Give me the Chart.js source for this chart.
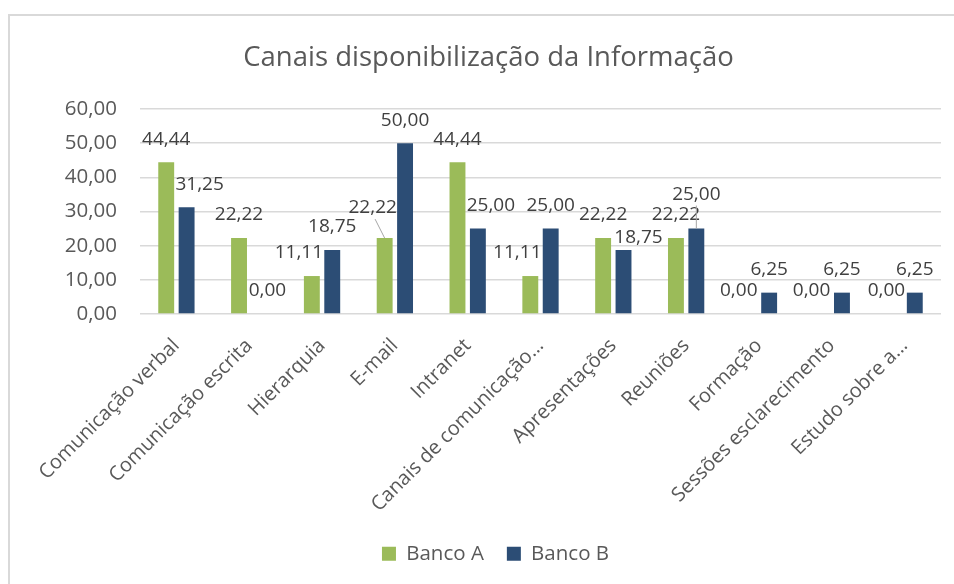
<!DOCTYPE html>
<html>
<head>
<meta charset="utf-8">
<script src="https://cdn.jsdelivr.net/npm/chart.js@4"></script>
<style>
  body { margin: 0; background: #fff; }
  #wrap { position: relative; width: 954px; height: 584px; overflow: hidden; }
  #frame { position: absolute; left: 8px; top: 14px; right: -4px; bottom: -4px;
           border-top: 2px solid #d9d9d9; border-left: 2px solid #d9d9d9; }
  canvas { position: absolute; left: 0; top: 0; }
</style>
</head>
<body>
<div id="wrap">
  <div id="frame"></div>
  <canvas id="chart" width="954" height="584"></canvas>
</div>
<script>
const categories = [
  'Comunicação verbal', 'Comunicação escrita', 'Hierarquia', 'E-mail', 'Intranet',
  'Canais de comunicação…', 'Apresentações', 'Reuniões', 'Formação',
  'Sessões esclarecimento', 'Estudo sobre a…'
];
const bancoA = [44.44, 22.22, 11.11, 22.22, 44.44, 11.11, 22.22, 22.22, 0, 0, 0];
const bancoB = [31.25, 0, 18.75, 50, 25, 25, 18.75, 25, 6.25, 6.25, 6.25];

// label shifts [dx, dy] so the value labels don't run into each other
const nudgeA = [[0,0],[0,0],[-13,0],[-12,7],[0,0],[-13,0],[0,0],[0,0],[-10,0],[-10,0],[-8,0]];
const nudgeB = [[13,0],[8,0],[0,0],[0,0],[13,0],[0,0],[15,-11],[0,11],[0,0],[0,0],[0,0]];
const leaderA = [3];
const leaderB = [7];

const fmt = v => v.toFixed(2).replace('.', ',');
const FONT = '"Open Sans", "DejaVu Sans", sans-serif';

const valueLabels = {
  id: 'valueLabels',
  afterDatasetsDraw(chart) {
    const ctx = chart.ctx;
    const nudges = [nudgeA, nudgeB];
    const leaders = [leaderA, leaderB];
    ctx.save();
    ctx.font = '19px ' + FONT;
    ctx.textAlign = 'center';
    ctx.textBaseline = 'middle';
    chart.data.datasets.forEach((ds, i) => {
      const meta = chart.getDatasetMeta(i);
      meta.data.forEach((bar, j) => {
        const [dx, dy] = nudges[i][j];
        const x = bar.x + dx;
        const y = bar.y - 23 - dy;
        if (leaders[i].includes(j)) {
          ctx.strokeStyle = '#a6a6a6';
          ctx.lineWidth = 1;
          ctx.beginPath();
          ctx.moveTo(x + (bar.x - x) * 0.2, y + 11);
          ctx.lineTo(bar.x, bar.y);
          ctx.stroke();
        }
        ctx.fillStyle = '#404040';
        ctx.fillText(fmt(ds.data[j]), x, y);
      });
    });
    ctx.restore();
  }
};

// the left padding is there for the legend; pull the title back a little
const titleShift = {
  id: 'titleShift',
  afterLayout(chart) {
    chart.titleBlock.left -= 7;
    chart.titleBlock.right -= 7;
  }
};

new Chart(document.getElementById('chart'), {
  type: 'bar',
  data: {
    labels: categories,
    datasets: [
      { label: 'Banco A', data: bancoA, backgroundColor: '#9bbb59' },
      { label: 'Banco B', data: bancoB, backgroundColor: '#2c4d75' }
    ]
  },
  options: {
    responsive: false,
    animation: false,
    categoryPercentage: 0.56,
    barPercentage: 0.78,
    layout: { padding: { left: 50, right: 13, top: 0, bottom: 10 } },
    plugins: {
      title: {
        display: true,
        text: 'Canais disponibilização da Informação',
        color: '#595959',
        font: { family: FONT, size: 27.5, weight: 'normal' },
        padding: { top: 42, bottom: 34 }
      },
      legend: {
        position: 'bottom',
        labels: {
          color: '#595959',
          font: { family: FONT, size: 20.5 },
          boxWidth: 14,
          boxHeight: 14,
          padding: 23
        }
      },
      tooltip: { enabled: false }
    },
    scales: {
      x: {
        grid: { display: false },
        border: { display: false },
        ticks: {
          color: '#595959',
          font: { family: FONT, size: 20 },
          minRotation: 45,
          maxRotation: 45,
          autoSkip: false,
          padding: 12
        },
        afterFit(scale) { scale.height = 206.5; }
      },
      y: {
        min: 0,
        max: 60,
        grid: { color: '#d9d9d9', lineWidth: 1.5, drawTicks: false },
        border: { display: false },
        ticks: {
          stepSize: 10,
          color: '#595959',
          font: { family: FONT, size: 20.5 },
          padding: 23,
          callback: v => fmt(v)
        },
        afterFit(scale) { scale.width = 90; }
      }
    }
  },
  plugins: [valueLabels, titleShift]
});
</script>
</body>
</html>
